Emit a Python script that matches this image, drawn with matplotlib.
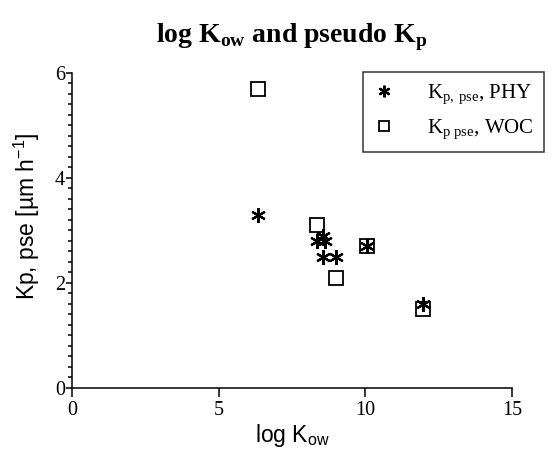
import numpy as np
import matplotlib
matplotlib.use("Agg")
import matplotlib.pyplot as plt
from matplotlib.ticker import MultipleLocator

plt.rcParams['mathtext.fontset'] = 'custom'
plt.rcParams['mathtext.rm'] = 'Liberation Serif'

# data
phy_x = [6.33, 8.35, 8.55, 8.62, 8.57, 9.0, 10.05, 11.95]
phy_y = [3.3, 2.8, 2.9, 2.8, 2.5, 2.5, 2.7, 1.6]
woc_x = [6.33, 8.34, 9.0, 10.05, 11.98]
woc_y = [5.7, 3.1, 2.1, 2.7, 1.5]

fig = plt.figure(figsize=(5.56, 4.58), dpi=100)
ax = fig.add_axes([0.1295, 0.153, 0.7914, 0.688])

ax.plot(woc_x, woc_y, linestyle='none', marker='s', markersize=9.5,
        markerfacecolor='none', markeredgecolor='black', markeredgewidth=1.3,
        label=r'K$_\mathregular{p\;pse}$, WOC')
ax.plot(phy_x, phy_y, linestyle='none', marker=(6, 2, 0), markersize=10.5,
        color='black', markeredgewidth=1.6,
        label=r'K$_\mathregular{p,\,pse}$, PHY')

ax.set_xlim(0, 15)
ax.set_ylim(0, 6)
ax.set_xticks([0, 5, 10, 15])
ax.set_yticks([0, 2, 4, 6])
ax.yaxis.set_minor_locator(MultipleLocator(0.2))

for s in ['top', 'right']:
    ax.spines[s].set_visible(False)
for s in ['left', 'bottom']:
    ax.spines[s].set_linewidth(1.1)

ax.tick_params(which='major', direction='out', length=4, width=1.1,
               labelsize=14.5, pad=1)
ax.tick_params(axis='x', which='major', length=6.5, pad=3)
ax.tick_params(which='minor', direction='out', length=3, width=1.1)
for lab in ax.get_xticklabels() + ax.get_yticklabels():
    lab.set_family('Liberation Serif')

ax.set_xlabel(r'log K$_\mathregular{ow}$', family='Liberation Sans',
              fontsize=16.5, labelpad=1)
ax.set_ylabel(r'Kp, pse [µm h$^\mathregular{-1}$]', family='Liberation Sans',
              fontsize=16.5)
ax.yaxis.set_label_coords(-0.068, 0.545)
ax.set_title(r'log K$_\mathregular{ow}$ and pseudo K$_\mathregular{p}$',
             family='Liberation Serif', fontweight='bold', fontsize=20, pad=22)

handles, labels = ax.get_legend_handles_labels()
leg = ax.legend(handles[::-1], labels[::-1], loc='upper right',
                bbox_to_anchor=(544 / 556, 1 - 72 / 458),
                bbox_transform=fig.transFigure, borderaxespad=0,
                prop={'family': 'Liberation Serif', 'size': 15},
                frameon=True, fancybox=False, edgecolor='black',
                markerscale=0.8, handlelength=1.0, handletextpad=1.55,
                borderpad=0.5, labelspacing=0.55)
leg.get_frame().set_linewidth(1.1)

fig.savefig('out.png', dpi=100)
